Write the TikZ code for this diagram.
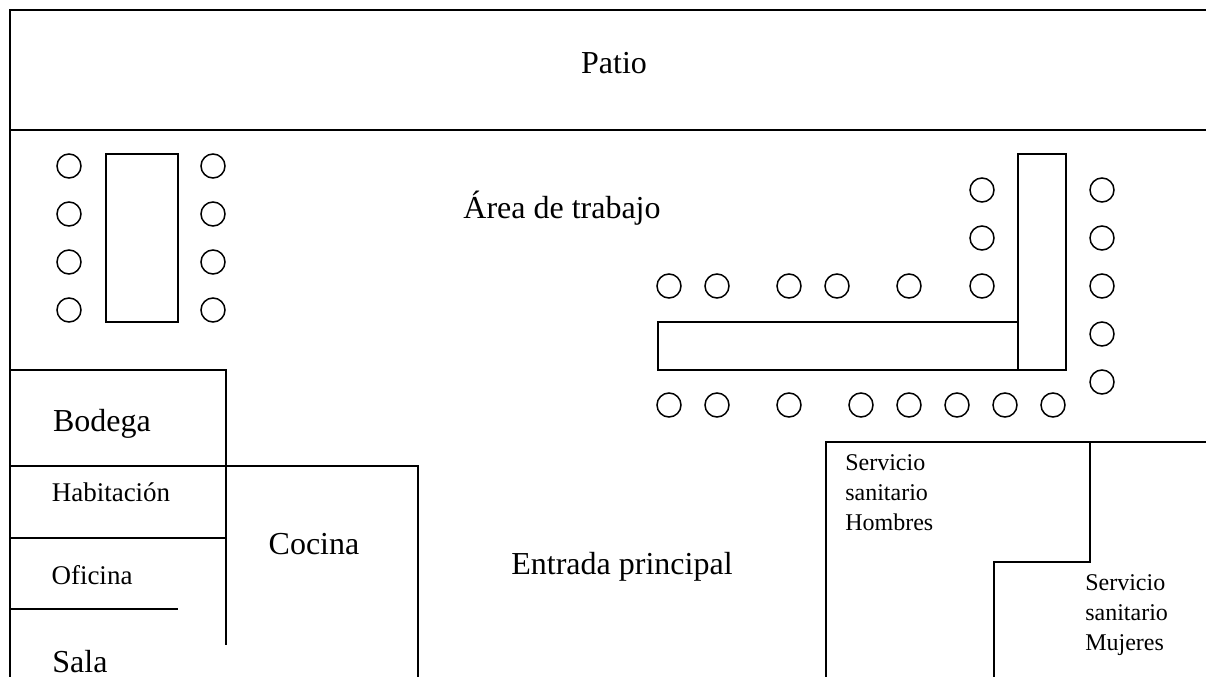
\documentclass[tikz,border=0pt]{standalone}
\usepackage{fontspec}
\setmainfont{Liberation Serif}
\newlength{\pxu}
\setlength{\pxu}{0.75pt}
\tikzset{wall/.style={draw=black,line width=1.5\pxu},
seat/.style={circle,draw=black,line width=1.5\pxu,minimum size=24\pxu,inner sep=0pt},
mid/.style={font=\fontsize{32\pxu}{36\pxu}\selectfont,inner sep=0pt},
hab/.style={font=\fontsize{27\pxu}{30\pxu}\selectfont,inner sep=0pt},
small/.style={font=\fontsize{24\pxu}{30\pxu}\selectfont,inner sep=0pt,align=left}}
\begin{document}
\begin{tikzpicture}[x=0.75pt,y=-0.75pt]
\useasboundingbox (0,0) rectangle (1206,677);
\fill[white] (0,0) rectangle (1206,677);
\draw[wall] (1206,10) -- (10,10) -- (10,677);
\draw[wall] (10,130) -- (1206,130);
\draw[wall] (106,154) rectangle (178,322);
\draw[wall] (658,322) rectangle (1018,370);
\draw[wall] (1018,154) rectangle (1066,370);
\draw[wall] (10,370) -- (226,370) -- (226,645);
\draw[wall] (10,466) -- (418,466) -- (418,677);
\draw[wall] (10,538) -- (226,538);
\draw[wall] (10,609) -- (178,609);
\draw[wall] (826,677) -- (826,442) -- (1206,442);
\draw[wall] (1090,442) -- (1090,562) -- (994,562) -- (994,677);
\foreach \n/\x/\y in {a/69/166,b/69/214,c/69/262,d/69/310,e/213/166,f/213/214,g/213/262,h/213/310,
i/982/190,j/982/238,k/982/286,l/1102/190,m/1102/238,n/1102/286,o/1102/334,p/1102/382,
q/669/286,r/717/286,s/789/286,t/837/286,u/909/286,
v/669/405,w/717/405,x/789/405,y/861/405,z/909/405,aa/957/405,ab/1005/405,ac/1053/405}
  \node[seat] (\n) at (\x,\y) {};
\node[mid] (patio) at (614,63) {Patio};
\node[mid] (area) at (562,208) {Área de trabajo};
\node[mid] (bodega) at (102,424) {Bodega};
\node[hab] (habit) at (111,492) {Habitación};
\node[hab] (ofi) at (92,575) {Oficina};
\node[mid] (cocina) at (314,544) {Cocina};
\node[mid] (entrada) at (622,567) {Entrada principal};
\node[mid] (sala) at (80,662) {Sala};
\node[small,anchor=north west] (sh) at (845,454) {Servicio\\sanitario\\Hombres};
\node[small,anchor=north west] (sm) at (1085,574) {Servicio\\sanitario\\Mujeres};
\end{tikzpicture}
\end{document}
